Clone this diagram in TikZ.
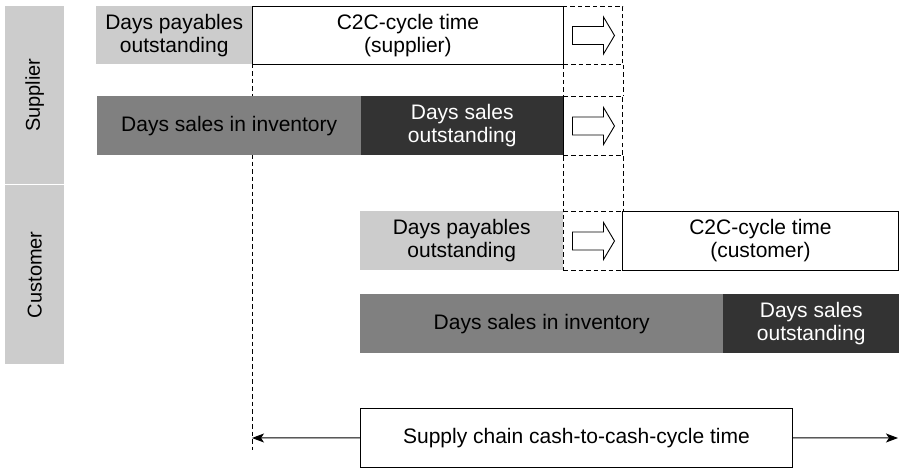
\documentclass[tikz,border=0pt]{standalone}
\usepackage{fontspec}
\setmainfont{Liberation Sans}
\usetikzlibrary{arrows.meta}
\definecolor{lightg}{HTML}{CCCCCC}
\definecolor{midg}{HTML}{808080}
\definecolor{darkg}{HTML}{333333}
\begin{document}
\begin{tikzpicture}[x=1pt,y=-1pt,
  txt/.style={font=\fontsize{21}{23}\selectfont, align=center, inner sep=0pt, anchor=north west},
  bar/.style={txt, draw=none},
  framed/.style={txt, draw=black, line width=0.9pt, fill=white},
  side/.style={fill=lightg, inner sep=0pt, anchor=north west, font=\fontsize{20}{22}\selectfont},
  dsh/.style={draw=black, line width=1pt, dash pattern=on 4.5pt off 3pt},
  blockarrow/.style={draw=black, line width=0.9pt, fill=white},
  link/.style={draw=black, line width=1pt, -{Stealth[length=12pt,width=9pt,inset=3pt]}}]
\useasboundingbox (0,0) rectangle (899,468);
% long dashed line (behind the bars)
\coordinate (vtop) at (252,64);
\coordinate (vbot) at (252,450);
\draw[dsh] (vtop) -- (vbot);
% side labels
\node[side, minimum width=59pt, minimum height=178pt] (sup) at (5,6) {};
\node[rotate=90, font=\fontsize{20}{22}\selectfont] (suplab) at (sup.center) {Supplier};
\node[side, minimum width=59pt, minimum height=179pt] (cus) at (5,185) {};
\node[rotate=90, font=\fontsize{20}{22}\selectfont] (cuslab) at (cus.center) {Customer};
% dashed column boxes
\node[dsh, anchor=north west, minimum width=59pt, minimum height=58pt, inner sep=0pt] (d1) at (563,6) {};
\node[dsh, anchor=north west, minimum width=59pt, minimum height=59pt, inner sep=0pt] (d2) at (563,96) {};
\node[dsh, anchor=north west, minimum width=59pt, minimum height=59pt, inner sep=0pt] (d3) at (563,211) {};
\draw[dsh] (d1.south west) -- (d2.north west);
\draw[dsh] (d1.south east) -- (d2.north east);
\draw[dsh] (d2.south west) -- (d3.north west);
\draw[dsh] (d2.south east) -- (d3.north east);
% row 1 supplier
\node[bar, fill=lightg, minimum width=156pt, minimum height=58pt] (dpos) at (96,6) {Days payables\\outstanding};
\node[framed, minimum width=311pt, minimum height=58pt] (c2cs) at (252,6) {C2C-cycle time\\(supplier)};
% row 2 supplier
\node[bar, fill=midg, minimum width=264pt, minimum height=59pt] (dsis) at (97,96) {Days sales in inventory};
\node[bar, fill=darkg, text=white, minimum width=202pt, minimum height=59pt] (dsos) at (361,96) {Days sales\\outstanding};
\draw[dsh] (d2.north west) -- (d2.south west);
% row 3 customer
\node[bar, fill=lightg, minimum width=203pt, minimum height=59pt] (dpoc) at (360,211) {Days payables\\outstanding};
\node[framed, minimum width=276pt, minimum height=59pt] (c2cc) at (622,211) {C2C-cycle time\\(customer)};
\draw[dsh] (c2cc.north west) -- (c2cc.south west);
% row 4 customer
\node[bar, fill=midg, minimum width=363pt, minimum height=59pt] (dsic) at (360,294) {Days sales in inventory};
\node[bar, fill=darkg, text=white, minimum width=176pt, minimum height=59pt] (dsoc) at (723,294) {Days sales\\outstanding};
% block arrows
\foreach \n in {d1,d2,d3}{
  \draw[blockarrow] ([xshift=-20.5pt,yshift=-9pt]\n.center) -- ([xshift=10.5pt,yshift=-9pt]\n.center)
    -- ([xshift=10.5pt,yshift=-18.5pt]\n.center) -- ([xshift=21.5pt]\n.center)
    -- ([xshift=10.5pt,yshift=18.5pt]\n.center) -- ([xshift=10.5pt,yshift=9pt]\n.center)
    -- ([xshift=-20.5pt,yshift=9pt]\n.center) -- cycle;
}
% bottom box
\node[framed, minimum width=432pt, minimum height=59pt] (total) at (360,408) {Supply chain cash-to-cash-cycle time};
\coordinate (lend) at (252,438);
\coordinate (rend) at (898,438);
\draw[link] (total.west) -- (lend);
\draw[link] (total.east) -- (rend);
\end{tikzpicture}
\end{document}
